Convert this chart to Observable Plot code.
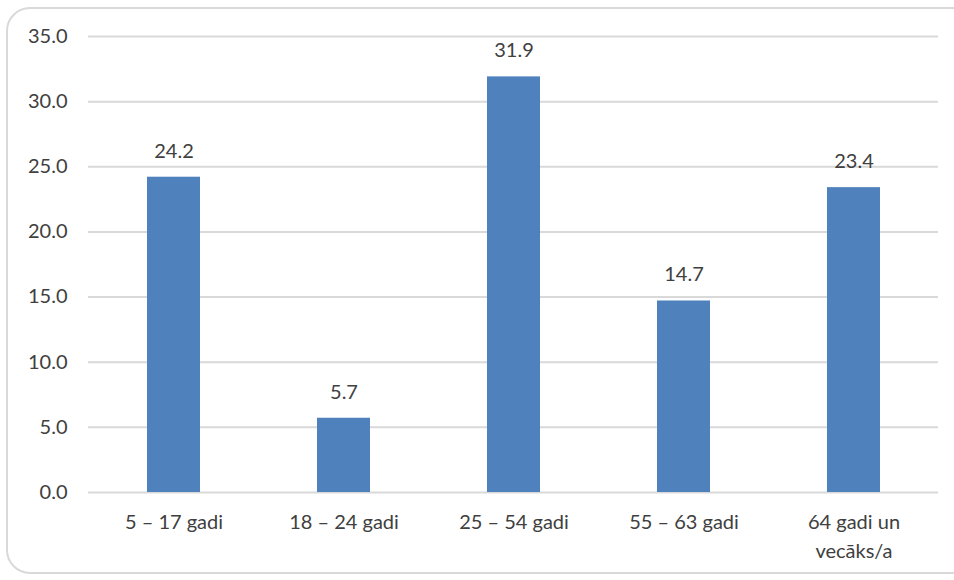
<!DOCTYPE html>
<html>
<head>
<meta charset="utf-8">
<script src="https://cdn.jsdelivr.net/npm/d3@7"></script>
<script src="https://cdn.jsdelivr.net/npm/@observablehq/plot@0.6"></script>
<style>
  body { margin: 0; background: #fff; overflow: hidden; }
  #frame { position: absolute; left: 6px; top: 7px; width: 970px; height: 567px;
           border: 2px solid #d9d9d9; border-radius: 24px; box-sizing: border-box; }
  #chart { position: absolute; left: 0; top: 0; }
</style>
</head>
<body>
<div id="frame"></div>
<div id="chart"></div>
<script>
const categories = ["5 – 17 gadi", "18 – 24 gadi", "25 – 54 gadi", "55 – 63 gadi", "64 gadi un\nvecāks/a"];
const values = [24.2, 5.7, 31.9, 14.7, 23.4];
const yTicks = [0, 5, 10, 15, 20, 25, 30, 35];

const data = categories.map((c, i) => ({category: c, value: values[i]}));

const chart = Plot.plot({
  width: 954,
  height: 580,
  marginLeft: 88,
  marginRight: 16,
  marginTop: 36,
  marginBottom: 88,
  style: {fontFamily: "Lato, 'Open Sans', sans-serif", fontSize: "20px", color: "#404040", background: "transparent"},
  x: {domain: categories, paddingInner: 0.69, paddingOuter: 0.345, label: null},
  y: {domain: [0, 35], label: null},
  marks: [
    Plot.gridY(yTicks, {stroke: "#d9d9d9", strokeOpacity: 1, strokeWidth: 2}),
    Plot.axisY(yTicks, {tickSize: 0, tickPadding: 21, tickFormat: d => d.toFixed(1), fill: "#404040", fontSize: 20, label: null}),
    Plot.axisX({tickSize: 0, tickPadding: 16, lineHeight: 1.45, fill: "#404040", fontSize: 20, label: null}),
    Plot.barY(data, {x: "category", y: "value", fill: "#4F81BD"}),
    Plot.text(data, {x: "category", y: "value", text: d => d.value.toFixed(1), dy: -26, fill: "#404040", fontSize: 20})
  ]
});
document.getElementById("chart").append(chart);
</script>
</body>
</html>
